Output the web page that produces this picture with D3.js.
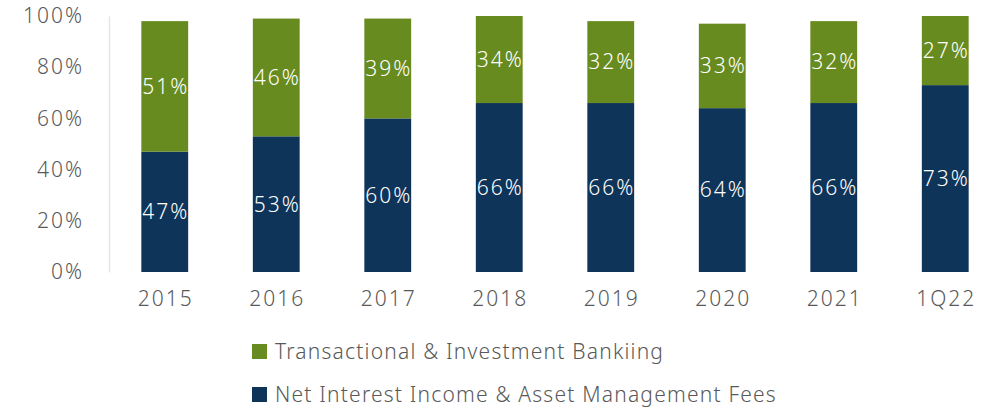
<!DOCTYPE html>
<html>
<head>
<meta charset="utf-8">
<script src="https://cdn.jsdelivr.net/npm/d3@7"></script>
<style>
    body { margin: 0; background: #fff; }
    text { font-family: "Noto Sans", sans-serif; font-weight: 300; }
</style>
</head>
<body>
<div id="chart"></div>
<script>
var categories = ["2015", "2016", "2017", "2018", "2019", "2020", "2021", "1Q22"];
var netInterest = [47, 53, 60, 66, 66, 64, 66, 73];
var transactional = [51, 46, 39, 34, 32, 33, 32, 27];
var yTicks = [0, 20, 40, 60, 80, 100];
var seriesNames = ["Transactional & Investment Bankiing", "Net Interest Income & Asset Management Fees"];
var colors = {blue: "#0f3459", green: "#678b1f"};

var svg = d3.select("#chart")
        .append("svg")
        .attr("width", 995)
        .attr("height", 408),
    margin = {top: 16, right: 0, bottom: 136, left: 109},
    width = 1001 - margin.left,
    height = 408 - margin.top - margin.bottom,
    g = svg.append("g").attr("transform", "translate(" + margin.left + "," + margin.top + ")");

var x = d3.scaleBand()
    .domain(categories)
    .range([0, width])
    .paddingInner(0.58)
    .paddingOuter(0.29);

var y = d3.scaleLinear()
    .domain([0, 100])
    .range([height, 0]);

// y axis: light line, no ticks
var yAxis = g.append("g")
    .call(d3.axisLeft(y).tickValues(yTicks).tickSize(0).tickPadding(25).tickFormat(function(d) { return d + "%"; }));
yAxis.select(".domain").attr("stroke", "#e6e6e6").attr("stroke-width", 1.5);
yAxis.selectAll("text")
    .attr("fill", "#595959")
    .style("font-size", "21px")
    .style("letter-spacing", "2px");

var xAxis = g.append("g")
    .attr("transform", "translate(0," + height + ")")
    .call(d3.axisBottom(x).tickSize(0).tickPadding(19));
xAxis.select(".domain").remove();
xAxis.selectAll("text")
    .attr("fill", "#595959")
    .attr("dx", "1px")
    .style("font-size", "21px")
    .style("letter-spacing", "2px");

var data = categories.map(function(c, i) {
    return {cat: c, blue: netInterest[i], green: transactional[i]};
});

var bars = g.selectAll(".bar")
    .data(data)
    .enter()
    .append("g")
    .attr("class", "bar");

bars.append("rect")
    .attr("x", function(d) { return x(d.cat); })
    .attr("width", x.bandwidth())
    .attr("y", function(d) { return y(d.blue); })
    .attr("height", function(d) { return y(0) - y(d.blue); })
    .attr("fill", colors.blue);

bars.append("rect")
    .attr("x", function(d) { return x(d.cat); })
    .attr("width", x.bandwidth())
    .attr("y", function(d) { return y(d.blue + d.green); })
    .attr("height", function(d) { return y(d.blue) - y(d.blue + d.green); })
    .attr("fill", colors.green);

function label(sel, lo, hi, val) {
    sel.append("text")
        .attr("x", function(d) { return x(d.cat) + x.bandwidth() / 2 + 1; })
        .attr("y", function(d) { return (y(lo(d)) + y(hi(d))) / 2; })
        .attr("dy", "0.35em")
        .attr("text-anchor", "middle")
        .attr("fill", "#fff")
        .style("font-size", "21px")
        .style("letter-spacing", "2px")
        .text(function(d) { return val(d) + "%"; });
}
label(bars, function(d) { return 0; }, function(d) { return d.blue; }, function(d) { return d.blue; });
label(bars, function(d) { return d.blue; }, function(d) { return d.blue + d.green; }, function(d) { return d.green; });

// legend
var legend = svg.append("g");
var legendItems = [
    {name: seriesNames[0], color: colors.green, y: 352},
    {name: seriesNames[1], color: colors.blue, y: 395}
];
legend.selectAll("rect")
    .data(legendItems)
    .enter()
    .append("rect")
    .attr("x", 252)
    .attr("y", function(d) { return d.y - 8; })
    .attr("width", 15)
    .attr("height", 15)
    .attr("fill", function(d) { return d.color; });
legend.selectAll("text")
    .data(legendItems)
    .enter()
    .append("text")
    .attr("x", 275)
    .attr("y", function(d) { return d.y; })
    .attr("dy", "0.35em")
    .attr("fill", "#595959")
    .style("font-size", "21px")
    .style("letter-spacing", "1.2px")
    .text(function(d) { return d.name; });
</script>
</body>
</html>
